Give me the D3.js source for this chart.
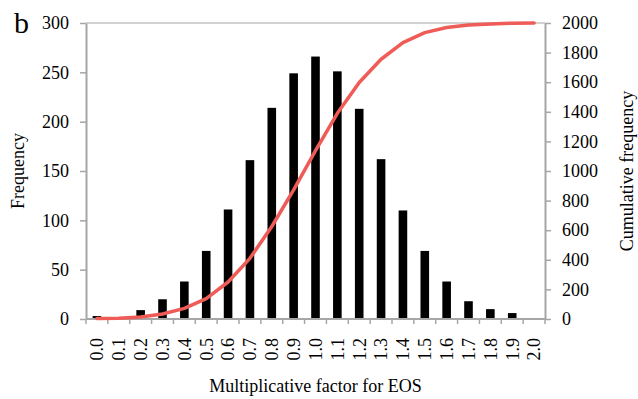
<!DOCTYPE html>
<html>
<head>
<meta charset="utf-8">
<script src="https://cdn.jsdelivr.net/npm/d3@7"></script>
<style>
  html, body { margin: 0; padding: 0; background: #fff; }
</style>
</head>
<body>
<div id="chart"></div>
<script>
// Histogram of EOS multiplicative factor, with cumulative frequency line

const categories = ['0.0', '0.1', '0.2', '0.3', '0.4', '0.5', '0.6', '0.7', '0.8', '0.9', '1.0',
  '1.1', '1.2', '1.3', '1.4', '1.5', '1.6', '1.7', '1.8', '1.9', '2.0'];
const frequency = [3, 2, 9, 20, 38, 69, 111, 161, 214, 249, 266, 251, 213, 162, 110, 69, 38, 18, 10, 6, 0];
const cumulative = [3, 5, 14, 34, 72, 138, 250, 410, 625, 872, 1138, 1390, 1598, 1755, 1868, 1935, 1970, 1986, 1994, 1999, 2000];
const leftTicks = [0, 50, 100, 150, 200, 250, 300];
const rightTicks = [0, 200, 400, 600, 800, 1000, 1200, 1400, 1600, 1800, 2000];

const width = 638;
const height = 399;
const margin = { top: 23, right: 93, bottom: 80, left: 86 };
const innerW = width - margin.left - margin.right;
const innerH = height - margin.top - margin.bottom;
const axisColor = '#a6a6a6';
const fontSize = 18;
const serif = '"Liberation Serif", "Times New Roman", serif';

const xPos = d3.scaleBand().domain(categories).range([0, innerW]);
const yL = d3.scaleLinear().domain([0, 300]).range([innerH, 0]);
const yR = d3.scaleLinear().domain([0, 2000]).range([innerH, 0]);

const svg = d3.select('#chart').append('svg')
  .attr('width', width).attr('height', height)
  .attr('viewBox', `0 0 ${width} ${height}`)
  .attr('font-family', serif);

const g = svg.append('g').attr('transform', `translate(${margin.left},${margin.top})`);

// top border line
g.append('line').attr('x1', 0).attr('x2', innerW).attr('y1', 0).attr('y2', 0)
  .attr('stroke', axisColor).attr('stroke-width', 1);

// bars
g.selectAll('rect.bar')
  .data(categories)
  .join('rect')
  .attr('class', 'bar')
  .attr('x', (d) => xPos(d) + (xPos.bandwidth() - 8.6) / 2)
  .attr('width', 8.6)
  .attr('y', (d, i) => yL(frequency[i]))
  .attr('height', (d, i) => innerH - yL(frequency[i]))
  .attr('fill', '#000');

// axes
function styleAxis(sel) {
  sel.attr('font-family', serif).attr('font-size', fontSize);
  sel.select('.domain').attr('stroke', axisColor).attr('stroke-width', 2);
  sel.selectAll('.tick line').attr('stroke', axisColor).attr('stroke-width', 1.5);
  sel.selectAll('.tick text').attr('fill', '#000');
}

const axL = g.append('g')
  .call(d3.axisLeft(yL).tickValues(leftTicks).tickSize(6).tickPadding(11).tickSizeOuter(0));
styleAxis(axL);

const axR = g.append('g').attr('transform', `translate(${innerW},0)`)
  .call(d3.axisRight(yR).tickValues(rightTicks).tickFormat(d3.format('d'))
    .tickSize(6).tickPadding(11).tickSizeOuter(0));
styleAxis(axR);

// x axis: ticks at category boundaries
const axX = g.append('g').attr('transform', `translate(0,${innerH})`);
axX.append('line').attr('x1', 0).attr('x2', innerW).attr('y1', 0).attr('y2', 0)
  .attr('stroke', axisColor).attr('stroke-width', 2);
const bounds = categories.map((c) => xPos(c)).concat([innerW]);
axX.selectAll('line.tk')
  .data(bounds)
  .join('line')
  .attr('class', 'tk')
  .attr('x1', (d) => d).attr('x2', (d) => d)
  .attr('y1', 0).attr('y2', 5)
  .attr('stroke', axisColor).attr('stroke-width', 1.5);
axX.selectAll('text.lbl')
  .data(categories)
  .join('text')
  .attr('class', 'lbl')
  .attr('transform', (d) => `translate(${xPos(d) + xPos.bandwidth() / 2},19) rotate(-90)`)
  .attr('text-anchor', 'end')
  .attr('dy', '0.35em')
  .attr('font-size', fontSize)
  .text((d) => d);

// cumulative line
const line = d3.line()
  .x((d, i) => xPos(categories[i]) + xPos.bandwidth() / 2)
  .y((d) => yR(d));

g.append('path')
  .datum(cumulative)
  .attr('d', line)
  .attr('fill', 'none')
  .attr('stroke', '#ef5b57')
  .attr('stroke-width', 3.5)
  .attr('stroke-linejoin', 'round')
  .attr('stroke-linecap', 'round');

// titles
svg.append('text')
  .attr('transform', `translate(24,${margin.top + innerH / 2}) rotate(-90)`)
  .attr('text-anchor', 'middle')
  .attr('font-size', fontSize)
  .text('Frequency');

svg.append('text')
  .attr('transform', `translate(633,${margin.top + innerH / 2}) rotate(-90)`)
  .attr('text-anchor', 'middle')
  .attr('font-size', fontSize)
  .text('Cumulative frequency');

svg.append('text')
  .attr('x', margin.left + innerW / 2)
  .attr('y', 392)
  .attr('text-anchor', 'middle')
  .attr('font-size', fontSize)
  .text('Multiplicative factor for EOS');

svg.append('text')
  .attr('x', 14)
  .attr('y', 33)
  .attr('font-size', 30)
  .text('b');
</script>
</body>
</html>
